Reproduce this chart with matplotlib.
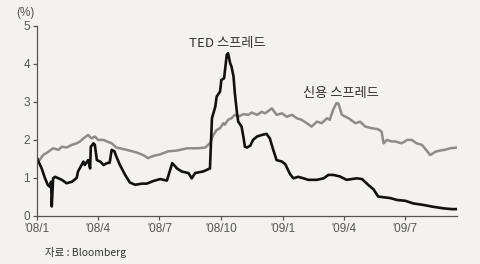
import pandas as pd
import matplotlib.pyplot as plt

# days since 2008-01-01 and spread values (%)
ted_days = [0, 7, 12, 16, 19, 21, 22, 24, 27, 32, 37, 44, 52, 59, 61, 69, 71, 76, 79, 80,
            84, 86, 89, 94, 99, 104, 108, 111, 115, 118, 123, 131, 138, 146, 156, 163, 173,
            183, 193, 201, 208, 215, 225, 230, 235, 247, 257, 260, 265, 267, 272, 274, 278,
            282, 284, 287, 289, 292, 294, 297, 299, 304, 307, 309, 312, 317, 321, 327, 334,
            341, 346, 351, 356, 364, 369, 376, 381, 388, 396, 403, 416, 426, 433, 440, 450,
            460, 475, 483, 492, 500, 507, 525, 535, 547, 559, 574, 589, 604, 616, 624]
ted_vals = [1.52, 1.25, 0.99, 0.82, 0.77, 0.90, 0.25, 0.99, 1.03, 0.99, 0.95, 0.86, 0.90,
            1.00, 1.17, 1.43, 1.34, 1.47, 1.25, 1.82, 1.91, 1.87, 1.47, 1.43, 1.34, 1.39,
            1.40, 1.74, 1.70, 1.56, 1.35, 1.08, 0.88, 0.82, 0.85, 0.85, 0.92, 0.97, 0.93,
            1.39, 1.25, 1.17, 1.13, 0.99, 1.13, 1.17, 1.25, 2.57, 2.88, 3.14, 3.27, 3.58,
            3.62, 4.24, 4.28, 4.02, 3.93, 3.67, 3.23, 2.74, 2.48, 2.35, 2.05, 1.82, 1.80,
            1.85, 2.00, 2.09, 2.13, 2.16, 2.04, 1.74, 1.47, 1.43, 1.36, 1.10, 0.99, 1.03,
            0.99, 0.95, 0.95, 0.99, 1.08, 1.08, 1.04, 0.95, 0.99, 0.97, 0.82, 0.70, 0.51,
            0.47, 0.42, 0.40, 0.33, 0.29, 0.24, 0.20, 0.18, 0.18]

credit_days = [0, 4, 9, 17, 24, 32, 37, 44, 52, 59, 64, 69, 76, 81, 86, 91, 99, 104, 111,
               118, 133, 148, 158, 165, 173, 183, 195, 208, 223, 240, 250, 257, 262, 267,
               272, 277, 279, 284, 289, 294, 299, 307, 314, 319, 327, 334, 339, 349, 356,
               364, 371, 379, 386, 393, 401, 408, 416, 423, 431, 435, 440, 445, 448, 453,
               463, 473, 480, 488, 497, 507, 512, 515, 520, 527, 532, 542, 550, 557, 564,
               572, 579, 584, 592, 599, 606, 614, 624]
credit_vals = [1.52, 1.47, 1.60, 1.69, 1.78, 1.74, 1.82, 1.80, 1.87, 1.91, 1.96, 2.04, 2.13,
               2.04, 2.09, 2.00, 2.00, 1.96, 1.91, 1.80, 1.74, 1.67, 1.60, 1.52, 1.58, 1.62,
               1.70, 1.72, 1.78, 1.78, 1.80, 1.91, 2.13, 2.26, 2.31, 2.44, 2.40, 2.53, 2.57,
               2.66, 2.61, 2.68, 2.66, 2.72, 2.66, 2.74, 2.70, 2.83, 2.66, 2.70, 2.61, 2.66,
               2.57, 2.53, 2.44, 2.35, 2.48, 2.44, 2.57, 2.53, 2.79, 2.97, 2.95, 2.66, 2.57,
               2.44, 2.48, 2.35, 2.31, 2.28, 2.22, 1.91, 2.00, 1.96, 1.96, 1.91, 2.00, 2.00,
               1.91, 1.87, 1.72, 1.60, 1.69, 1.72, 1.74, 1.78, 1.80]

tick_dates = ["2008-01-01", "2008-04-01", "2008-07-01", "2008-10-01",
              "2009-01-01", "2009-04-01", "2009-07-01"]
tick_labels = ["'08/1", "'08/4", "'08/7", "'08/10", "'09/1", "'09/4", "'09/7"]
y_ticks = [0, 1, 2, 3, 4, 5]


def to_dates(days):
    return pd.Timestamp("2008-01-01") + pd.to_timedelta(days, unit="D")


def main():
    bg = "#f3f2ee"
    plt.rcParams["font.family"] = ["Liberation Sans", "Noto Sans CJK KR"]

    fig = plt.figure(figsize=(4.8, 2.64), dpi=100, facecolor=bg)
    ax = fig.add_axes([0.077, 0.182, 0.875, 0.72], facecolor=bg)

    ax.plot(to_dates(credit_days), credit_vals, color="#8c8c8c", lw=1.8)
    ax.plot(to_dates(ted_days), ted_vals, color="#111111", lw=1.9)

    ax.set_xlim(pd.Timestamp("2008-01-01"), to_dates([624])[0])
    ax.set_ylim(0, 5)
    ax.set_yticks(y_ticks)
    ax.set_xticks(pd.to_datetime(tick_dates))
    ax.set_xticklabels(tick_labels)

    for side in ["top", "right"]:
        ax.spines[side].set_visible(False)
    for side in ["left", "bottom"]:
        ax.spines[side].set_color("#555555")
        ax.spines[side].set_linewidth(0.9)
    ax.tick_params(length=3, width=0.9, color="#555555", labelcolor="#555555",
                   labelsize=8.5, pad=2)

    korean = ["Noto Sans CJK KR", "DejaVu Sans"]
    fig.text(25 / 480, 1 - 13 / 264, "(%)", ha="center", va="center",
             fontsize=8.5, color="#555555")
    fig.text(227.5 / 480, 1 - 44 / 264, "TED 스프레드", ha="center", va="center",
             fontsize=9.5, color="#333333", family=korean)
    fig.text(340.5 / 480, 1 - 93 / 264, "신용 스프레드", ha="center", va="center",
             fontsize=9.5, color="#333333", family=korean)
    fig.text(45 / 480, 1 - 253 / 264, "자료 : Bloomberg", ha="left", va="center",
             fontsize=7.5, color="#333333", family=korean)

    fig.savefig("out.png", dpi=100, facecolor=bg)


if __name__ == "__main__":
    main()
